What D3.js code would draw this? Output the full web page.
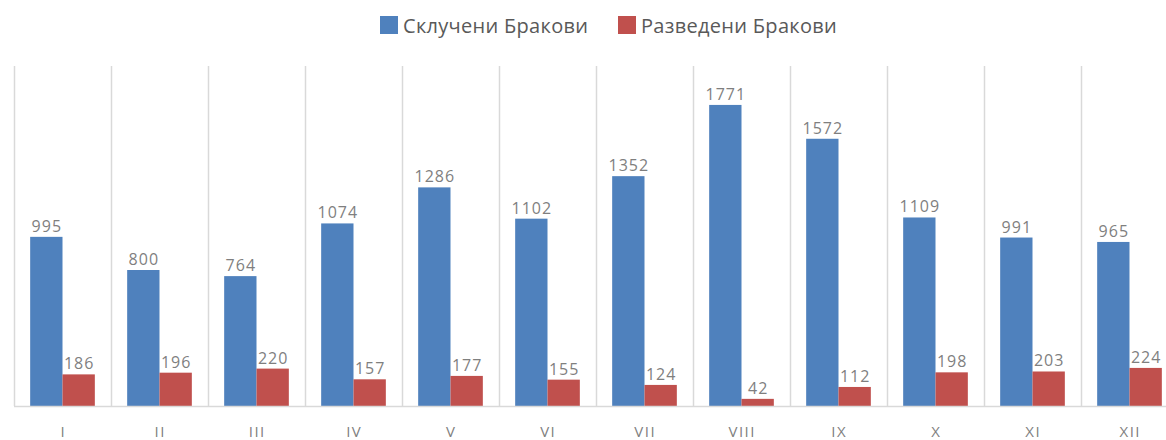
<!DOCTYPE html>
<html>
<head>
<meta charset="utf-8">
<script src="https://cdn.jsdelivr.net/npm/d3@7"></script>
<style>
  body { margin: 0; background: #fff; }
  svg { display: block; font-family: "Open Sans", "DejaVu Sans", sans-serif; }
</style>
</head>
<body>
<svg id="chart" width="1166" height="440"></svg>
<script>
// months
var months = ["I", "II", "III", "IV", "V", "VI", "VII", "VIII", "IX", "X", "XI", "XII"]
var married = [995, 800, 764, 1074, 1286, 1102, 1352, 1771, 1572, 1109, 991, 965]
var divorced = [186, 196, 220, 157, 177, 155, 124, 42, 112, 198, 203, 224]
var seriesNames = ["Склучени Бракови", "Разведени Бракови"]
var seriesColors = ["#4F81BD", "#C0504D"]

var svg = d3.select("#chart")

var x = d3.scaleBand()
  .domain(months)
  .range([14, 1178])
  .paddingInner(0)
  .paddingOuter(0)

var x1 = d3.scaleBand()
  .domain([0, 1])
  .range([0, x.bandwidth()])
  .paddingInner(0)
  .paddingOuter(0.5)

var y = d3.scaleLinear()
  .domain([0, 2000])
  .range([406, 66])

// vertical separators between categories
var gridG = svg.append("g")
gridG.selectAll("line")
  .data(months.concat(["end"]))
  .enter()
  .append("line")
  .attr("x1", (d, i) => Math.round(x.range()[0] + i * x.bandwidth()) + 0.5)
  .attr("x2", (d, i) => Math.round(x.range()[0] + i * x.bandwidth()) + 0.5)
  .attr("y1", y(2000))
  .attr("y2", y(0))
  .attr("stroke", "#D9D9D9")
  .attr("stroke-width", 1.5)

var rows = months.map((m, i) => ({ month: m, values: [married[i], divorced[i]] }))

var groups = svg.append("g")
  .selectAll("g")
  .data(rows)
  .enter()
  .append("g")
  .attr("transform", d => `translate(${x(d.month)},0)`)

groups.selectAll("rect")
  .data(d => d.values.map((v, k) => ({ k: k, v: v })))
  .enter()
  .append("rect")
  .attr("x", d => x1(d.k))
  .attr("width", x1.bandwidth())
  .attr("y", d => y(d.v))
  .attr("height", d => y(0) - y(d.v))
  .attr("fill", d => seriesColors[d.k])

groups.selectAll("text")
  .data(d => d.values.map((v, k) => ({ k: k, v: v })))
  .enter()
  .append("text")
  .attr("x", d => x1(d.k) + x1.bandwidth() / 2 + 0.5)
  .attr("y", d => y(d.v) - 5)
  .attr("text-anchor", "middle")
  .attr("font-size", 16)
  .attr("letter-spacing", 1)
  .attr("fill", "#7F7F7F")
  .text(d => d.v)

// baseline
svg.append("line")
  .attr("x1", 14)
  .attr("x2", 1166)
  .attr("y1", y(0) + 0.5)
  .attr("y2", y(0) + 0.5)
  .attr("stroke", "#D9D9D9")
  .attr("stroke-width", 1.5)

// category labels
svg.append("g")
  .selectAll("text")
  .data(months)
  .enter()
  .append("text")
  .attr("x", d => x(d) + x.bandwidth() / 2 + 0.75)
  .attr("y", 437)
  .attr("text-anchor", "middle")
  .attr("font-size", 15)
  .attr("letter-spacing", 1.5)
  .attr("fill", "#7F7F7F")
  .text(d => d)

// legend
var legendX = [380, 618]
var legend = svg.append("g")
seriesNames.forEach((name, i) => {
  legend.append("rect")
    .attr("x", legendX[i])
    .attr("y", 16)
    .attr("width", 18)
    .attr("height", 18)
    .attr("fill", seriesColors[i])
  legend.append("text")
    .attr("x", legendX[i] + 23)
    .attr("y", 33)
    .attr("font-size", 20)
    .attr("letter-spacing", 0.3)
    .attr("fill", "#595959")
    .text(name)
})
</script>
</body>
</html>
